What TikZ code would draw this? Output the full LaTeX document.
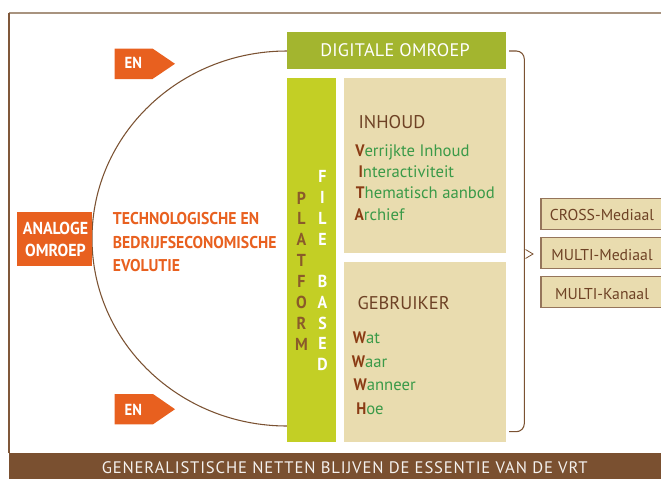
\documentclass[tikz,border=0pt]{standalone}
\usepackage{fontspec}
\setmainfont{PT Sans}[BoldFeatures={FakeStretch=0.92}]
\usetikzlibrary{positioning, calc}
\definecolor{enorange}{HTML}{E8601F}
\definecolor{barolive}{HTML}{A3B52F}
\definecolor{platlime}{HTML}{C3CF25}
\definecolor{boxbeige}{HTML}{E9DCAF}
\definecolor{linebrown}{HTML}{7B5232}
\definecolor{txtbrown}{HTML}{6E4225}
\definecolor{initbrown}{HTML}{8A3B14}
\definecolor{listgreen}{HTML}{3A9A48}
\definecolor{bandbrown}{HTML}{7A5030}
\definecolor{framegrey}{HTML}{A8937F}
\definecolor{platbrown}{HTML}{8A5A2A}
\newcommand{\firstltr}[1]{\textcolor{initbrown}{\bfseries #1}}

\begin{document}
\begin{tikzpicture}[x=0.75pt, y=-0.75pt,
    every node/.style={inner sep=0pt},
    entext/.style={anchor=base, text=white, font=\bfseries\fontsize{12}{14}\selectfont},
    analogtext/.style={anchor=base, text=white, font=\bfseries\fontsize{13}{15}\selectfont},
    evotext/.style={anchor=base west, text=enorange, font=\bfseries\fontsize{12.8}{15}\selectfont},
    bartext/.style={anchor=base, text=white, font=\fontsize{13.6}{15}\selectfont\addfontfeature{LetterSpace=1.5}},
    platletter/.style={anchor=base, text=platbrown, font=\bfseries\fontsize{13}{15}\selectfont\addfontfeature{FakeStretch=0.78}},
    fileletter/.style={anchor=base, text=white, font=\bfseries\fontsize{13}{15}\selectfont\addfontfeature{FakeStretch=0.72}},
    heading/.style={anchor=base west, text=txtbrown, font=\fontsize{13.8}{15}\selectfont},
    item/.style={anchor=base west, text=listgreen, font=\fontsize{12.5}{15}\selectfont},
    mediabox/.style={draw=linebrown!80, fill=boxbeige, line width=1.1pt},
    mediatext/.style={anchor=base, text=txtbrown, font=\fontsize{11.8}{13}\selectfont},
    bandtext/.style={anchor=base, text=white!92!bandbrown, font=\fontsize{12.5}{13}\selectfont\addfontfeature{LetterSpace=5}}]
\useasboundingbox (0,0) rectangle (661,479);
\clip (0,0) rectangle (661,479);

% frame and bottom band
\draw[framegrey, line width=1.1pt] (8.6,13) -- (661,13);
\draw[linebrown!90!framegrey, line width=1pt] (9,453) -- (9,12.5);
\fill[bandbrown] (9,452.7) rectangle (661,479);
\node[bandtext] (slogan) at (344.7,473.3) {GENERALISTISCHE NETTEN BLIJVEN DE ESSENTIE VAN DE VRT};

% evolution arc
\coordinate (A1) at (287,51);
\draw[linebrown, line width=0.8pt] (A1) arc[start angle=270, end angle=90, x radius=195, y radius=187.5];

% EN tags
\fill[enorange] (114.5,48.5) -- (152.5,48.5) -- (175,63.8) -- (152.5,79) -- (114.5,79) -- cycle;
\node[entext] (entop) at (133.3,68.3) {EN};
\fill[enorange] (114.5,394) -- (153,394) -- (175,409.2) -- (153,424.3) -- (114.5,424.3) -- cycle;
\node[entext] (enbot) at (133.3,415) {EN};

% analoge omroep
\fill[enorange] (16.7,211.7) rectangle (91.7,266);
\node[analogtext] (analoog1) at (55.5,234) {ANALOGE};
\node[analogtext] (analoog2) at (55.5,256) {OMROEP};

\node[evotext] (evo1) at (112.7,224.3) {TECHNOLOGISCHE EN};
\node[evotext] (evo2) at (112.7,248) {BEDRIJFSECONOMISCHE};
\node[evotext] (evo3) at (112.7,271.7) {EVOLUTIE};

% digitale omroep
\fill[barolive] (287,31.7) rectangle (506,69.3);
\node[bartext] (digitaal) at (395,56) {DIGITALE OMROEP};

\fill[platlime] (287,78.3) rectangle (336,442.3);
\foreach \l [count=\i] in {P,L,A,T,F,O,R,M}
  \node[platletter] (plat\i) at (301.5,{204+20.86*(\i-1)}) {\l};
\foreach \l [count=\i] in {F,I,L,E,{},B,A,S,E,D}
  \node[fileletter] (file\i) at (322.5,{182.7+20.9*(\i-1)}) {\l};

\fill[boxbeige] (344.3,78.3) rectangle (506,253.3);
\fill[boxbeige] (344.3,262) rectangle (506,442.3);

\node[heading] (inhoud) at (358.3,128) {INHOUD};
\node[item] (verrijkt) at (355,156) {\firstltr{V}errijkte Inhoud};
\node[item] (interact) at (358.3,177) {\firstltr{I}nteractiviteit};
\node[item] (thema) at (355.7,198.3) {\firstltr{T}hematisch aanbod};
\node[item] (archief) at (354.3,220.5) {\firstltr{A}rchief};

\node[heading] (gebruiker) at (357.3,309) {GEBRUIKER};
\node[item] (wat) at (352.7,343.3) {\firstltr{W}at};
\node[item] (waar) at (351.7,367.3) {\firstltr{W}aar};
\node[item] (wanneer) at (353.3,390.7) {\firstltr{W}anneer};
\node[item] (hoe) at (356,414) {\firstltr{H}oe};

% brace towards the media forms
\coordinate (B1) at (509,51);
\coordinate (B2) at (509,431.7);
\draw[linebrown, line width=0.8pt, rounded corners=6pt] (B1) -| (524.3,431.7) -- (B2);
\draw[linebrown, line width=0.6pt] (525.5,249.5) -- (533,254) -- (525.5,258.5);

\draw[mediabox] (541,198.3) rectangle (663,229.3);
\node[mediatext] (cross) at (602,220.7) {CROSS-Mediaal};
\draw[mediabox] (541,237.3) rectangle (663,268.7);
\node[mediatext] (multimedia) at (602,260) {MULTI-Mediaal};
\draw[mediabox] (541,276.7) rectangle (663,307.7);
\node[mediatext] (multikanaal) at (602,299) {MULTI-Kanaal};
\end{tikzpicture}
\end{document}
